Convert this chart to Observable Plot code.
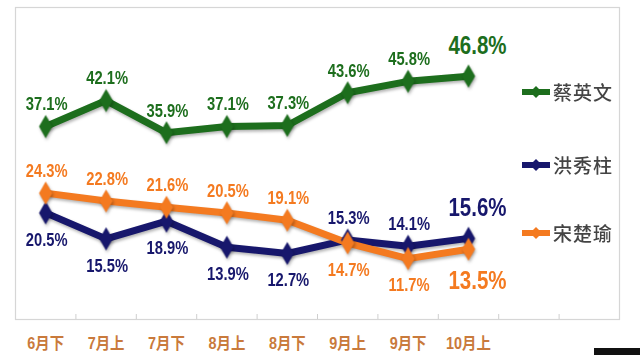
<!DOCTYPE html>
<html><head><meta charset="utf-8">
<script src="https://cdn.jsdelivr.net/npm/d3@7"></script>
<script src="https://cdn.jsdelivr.net/npm/@observablehq/plot@0.6"></script>
<style>
body{margin:0;background:#fff;}
#wrap{position:relative;width:640px;height:355px;overflow:hidden;}
.leg{position:absolute;left:522px;display:flex;align-items:center;font-family:"Noto Sans CJK TC","Noto Sans CJK SC",sans-serif;font-size:19px;font-weight:500;color:#444;letter-spacing:1px;line-height:1;}
.leg svg{margin-right:3px;}
.wm{position:absolute;left:594px;top:348px;width:46px;height:7px;background:#111;}
</style></head><body><div id="wrap"></div>
<script>
const periods = ["6月下","7月上","7月下","8月上","8月下","9月上","9月下","10月上"];
const slotCount = 10;
const names = ["蔡英文","洪秀柱","宋楚瑜"];
const tsai  = [37.1,42.1,35.9,37.1,37.3,43.6,45.8,46.8];
const hung  = [20.5,15.5,18.9,13.9,12.7,15.3,14.1,15.6];
const soong = [24.3,22.8,21.6,20.5,19.1,14.7,11.7,13.5];
const colors = ["#1d6e1d","#17176c","#f47a20"];
const legendY = [93,166,234];

const series = [tsai, hung, soong];
const rows = [];
series.forEach((vals, s) => {
  vals.forEach((v, i) => {
    let above;
    if (s === 0) above = true;
    else {
      const other = s === 1 ? soong[i] : hung[i];
      above = v > other;
    }
    rows.push({i, name: names[s], value: v, above, last: i === vals.length - 1});
  });
});
const fmt = d => d.value.toFixed(1) + "%";
const font = "'Liberation Sans','Arial',sans-serif";

const plot = Plot.plot({
  width: 640, height: 355,
  marginLeft: 15, marginRight: 21, marginTop: 7, marginBottom: 36,
  x: {type: "linear", domain: [-0.5, slotCount - 0.5], label: null},
  y: {domain: [0, 60], axis: null, label: null},
  color: {domain: names, range: colors},
  style: {background: "#fff", overflow: "visible"},
  marks: [
    Plot.frame({stroke: "#d6d6d6", strokeWidth: 1.2}),
    Plot.axisX({ticks: d3.range(slotCount - 1).map(k => k + 0.5), tickSize: -5, tickFormat: () => "", color: "#cfcfcf", label: null}),
    Plot.axisX({ticks: d3.range(periods.length), tickSize: 0, tickPadding: 18, tickFormat: k => periods[k], label: null,
      color: "#c97a3c", fontSize: 16, fontWeight: "bold", fontFamily: font + ",'Noto Sans CJK TC'"}),
    Plot.line(rows, {x: "i", y: "value", z: "name", stroke: "name", strokeWidth: 7, strokeLinejoin: "round"}),
    Plot.dot(rows, {x: "i", y: "value", fill: "name", symbol: "diamond", r: 7}),
    Plot.text(rows.filter(d => d.above && !d.last), {x: "i", y: "value", text: fmt, fill: "name", dy: -22, dx: 1,
      fontSize: 18, fontWeight: "bold", fontFamily: font}),
    Plot.text(rows.filter(d => !d.above && !d.last), {x: "i", y: "value", text: fmt, fill: "name", dy: 27, dx: 1,
      fontSize: 18, fontWeight: "bold", fontFamily: font}),
    Plot.text(rows.filter(d => d.above && d.last), {x: "i", y: "value", text: fmt, fill: "name", dy: -30, dx: 9,
      fontSize: 25, fontWeight: "bold", fontFamily: font}),
    Plot.text(rows.filter(d => !d.above && d.last), {x: "i", y: "value", text: fmt, fill: "name", dy: 32, dx: 9,
      fontSize: 25, fontWeight: "bold", fontFamily: font})
  ]
});
// condense the bold figures like the narrow face in the original
plot.querySelectorAll("text").forEach(t => {
  const s = t.textContent;
  let k = null;
  if (s.endsWith("%")) k = 0.82;
  else if (s.includes("月")) k = 0.9;
  if (k === null) return;
  const tr = t.getAttribute("transform");
  if (tr) t.setAttribute("transform", tr + ` scale(${k},1)`);
});
plot.querySelectorAll('g[aria-label="line"], g[aria-label="dot"]').forEach(g => {
  g.style.filter = "drop-shadow(1px 2px 1.5px rgba(0,0,0,0.3))";
});
const wrap = document.getElementById("wrap");
wrap.appendChild(plot);
names.forEach((n, k) => {
  const div = document.createElement("div");
  div.className = "leg";
  div.style.top = (legendY[k] - 11) + "px";
  div.innerHTML = `<svg width="28" height="14"><line x1="1" y1="7" x2="27" y2="7" stroke="${colors[k]}" stroke-width="6" stroke-linecap="round"/><path d="M14 1 L20 7 L14 13 L8 7Z" fill="${colors[k]}"/></svg><span>${n}</span>`;
  wrap.appendChild(div);
});
const wm = document.createElement("div");
wm.className = "wm";
wrap.appendChild(wm);
</script></body></html>
